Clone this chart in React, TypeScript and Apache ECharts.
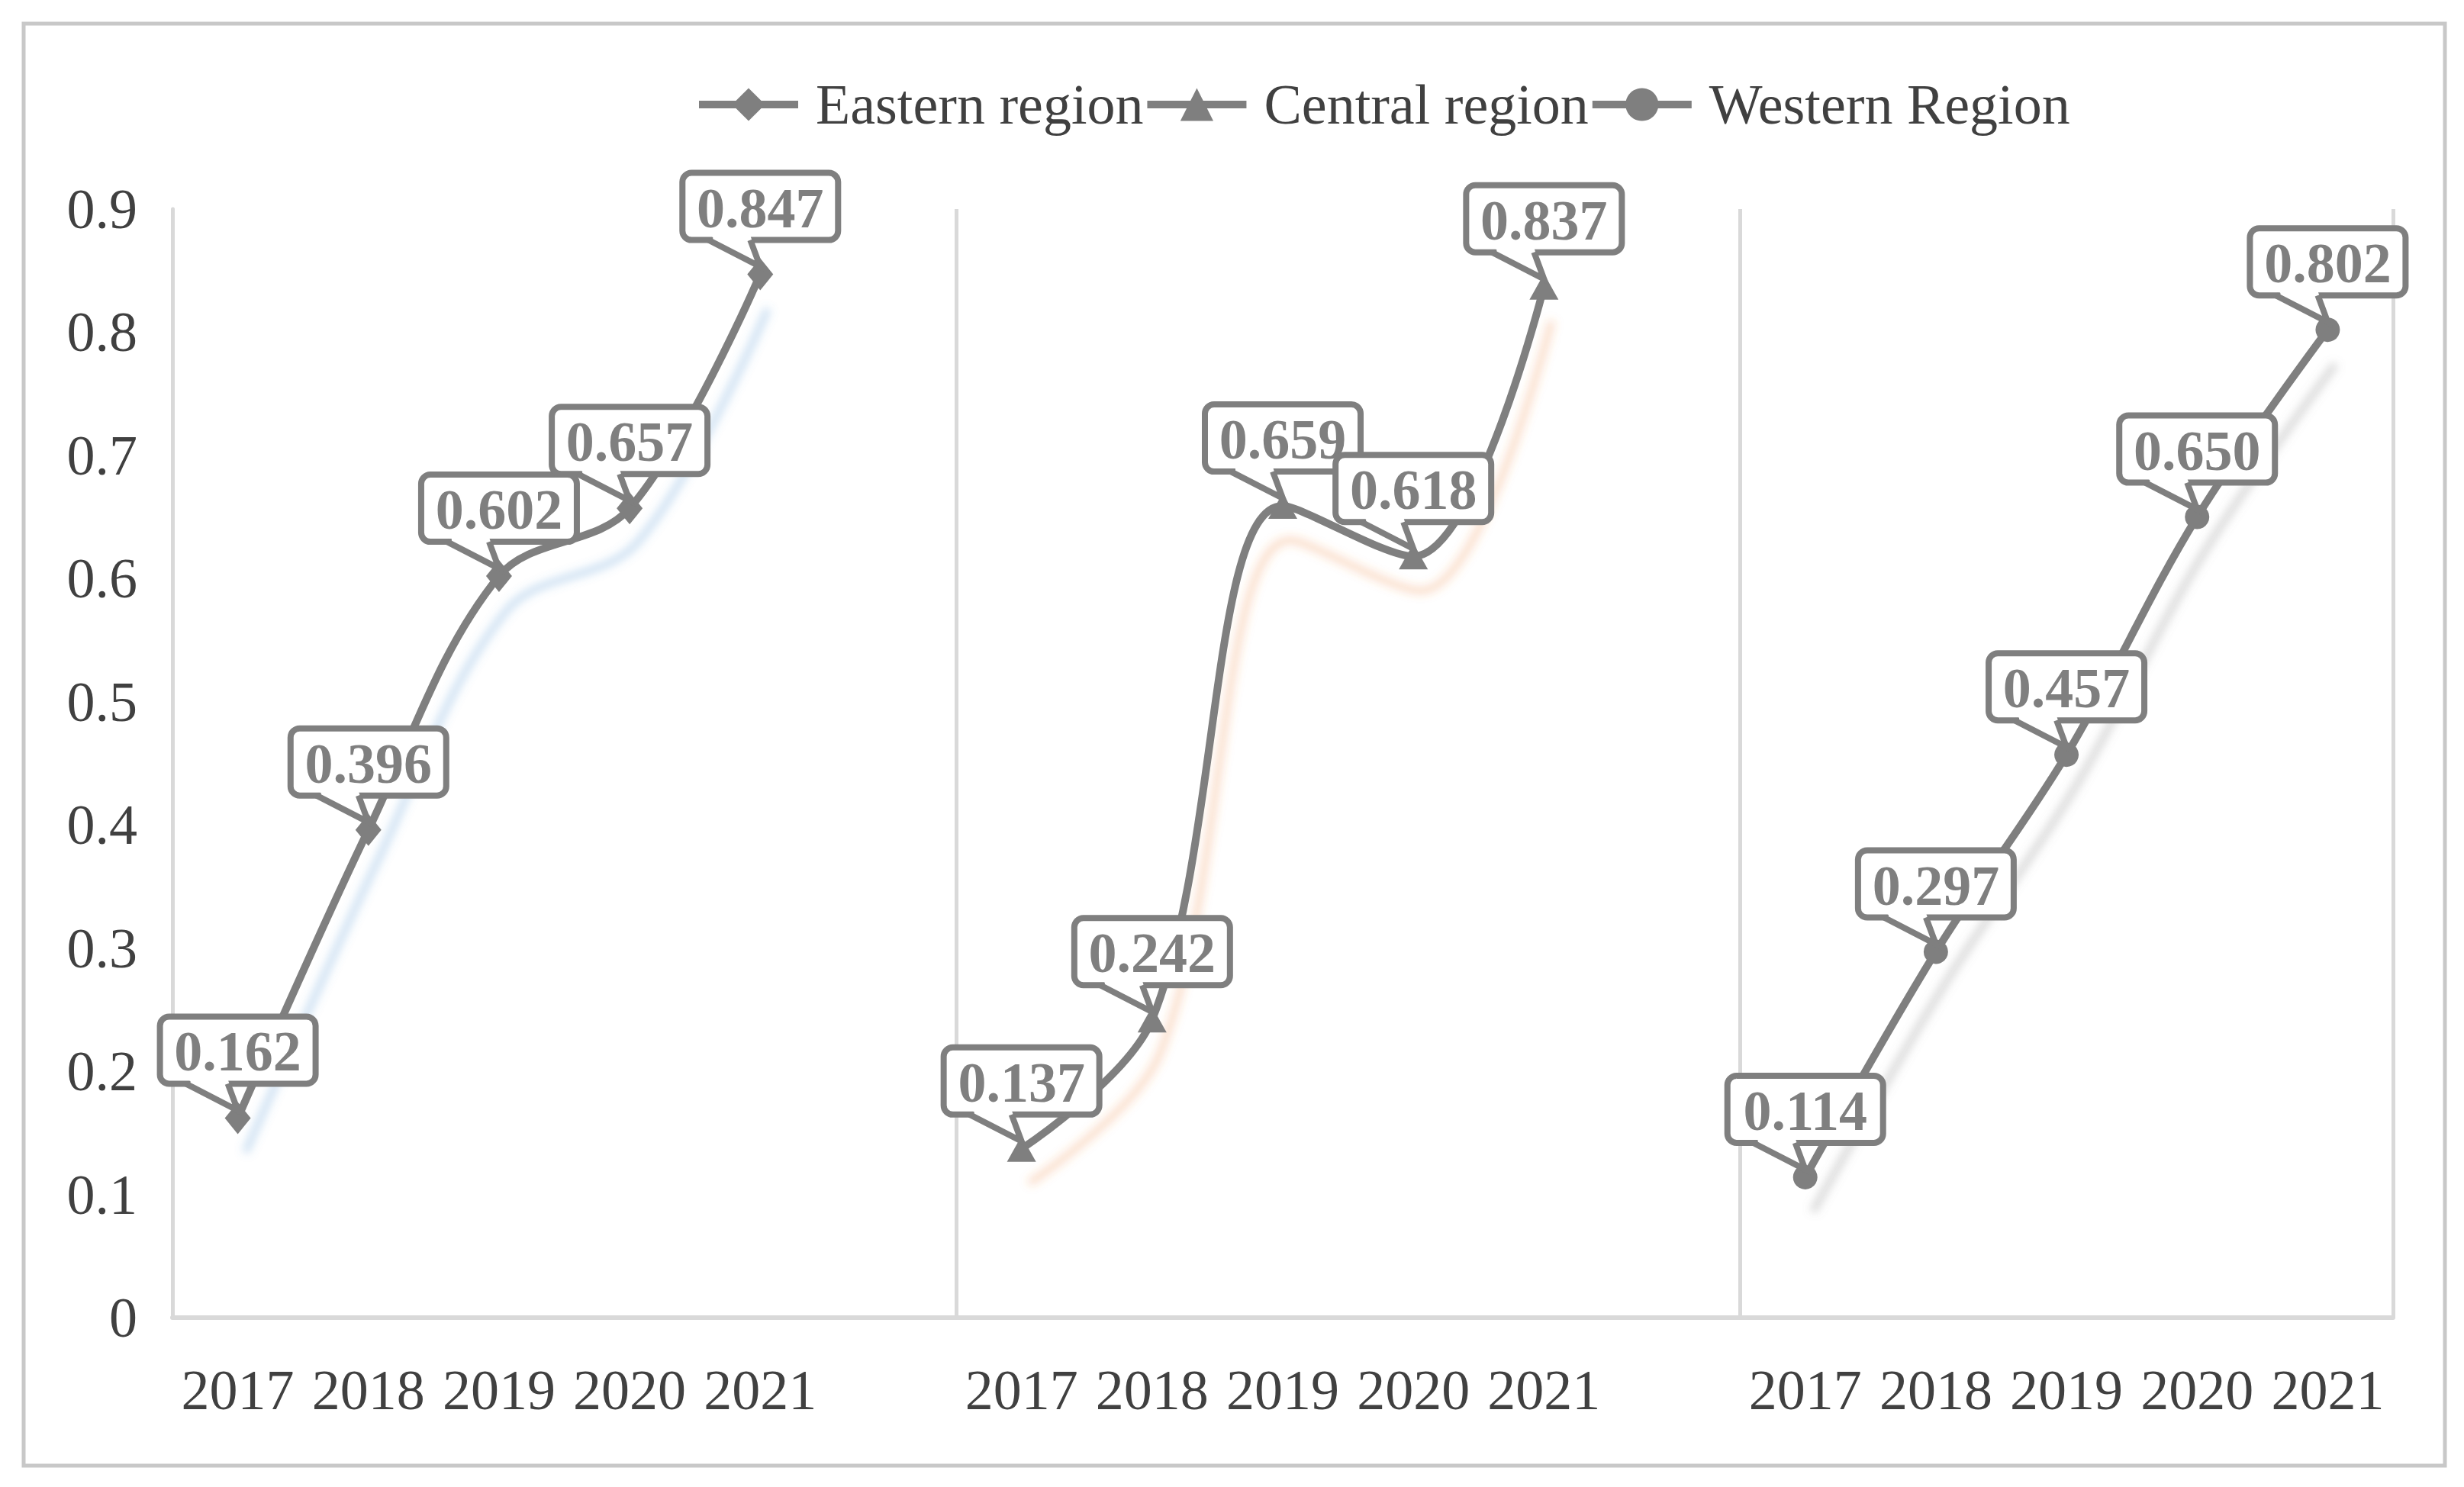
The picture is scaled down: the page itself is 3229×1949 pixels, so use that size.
import React, { useEffect, useRef } from "react";
import * as echarts from "echarts";

const years = ["2017", "2018", "2019", "2020", "2021"];
const eastern = [0.162, 0.396, 0.602, 0.657, 0.847];
const central = [0.137, 0.242, 0.659, 0.618, 0.837];
const western = [0.114, 0.297, 0.457, 0.65, 0.802];
const seriesNames = ["Eastern region", "Central region", "Western Region"];
const yMin = 0;
const yMax = 0.9;
const yStep = 0.1;

const FONT = "Liberation Serif";
const GRAY = "#7f7f7f";
const AXIS = "#d9d9d9";

const categories = [
  ...years.map((y) => `E|${y}`),
  "gap1",
  ...years.map((y) => `C|${y}`),
  "gap2",
  ...years.map((y) => `W|${y}`),
];

function pairs(prefix: string, vals: number[]) {
  return vals.map((v, i) => [`${prefix}|${years[i]}`, v]);
}

function calloutRender(params: any, api: any) {
  const idx = api.value(0);
  const val = api.value(1);
  const [px, py] = api.coord([idx, val]);
  const w = 204;
  const h = 88;
  const top = py - 133;
  const bottom = top + h;
  const lw = 8;
  return {
    type: "group",
    children: [
      {
        type: "rect",
        shape: { x: px - w / 2, y: top, width: w, height: h, r: 12 },
        style: { fill: "#ffffff", stroke: GRAY, lineWidth: lw },
      },
      {
        type: "polygon",
        shape: {
          points: [
            [px - 66, bottom - 6],
            [px, py - 10],
            [px - 13, bottom - 6],
          ],
        },
        style: { fill: "#ffffff" },
      },
      {
        type: "rect",
        shape: { x: px - 62, y: bottom - 6, width: 46, height: 12 },
        style: { fill: "#ffffff" },
      },
      {
        type: "polyline",
        shape: {
          points: [
            [px - 68, bottom],
            [px, py - 10],
            [px - 13, bottom],
          ],
        },
        style: { stroke: GRAY, lineWidth: lw, fill: null, lineJoin: "miter" },
      },
      {
        type: "text",
        style: {
          text: Number(val).toFixed(3),
          x: px,
          y: top + h / 2 + 2,
          align: "center",
          verticalAlign: "middle",
          fontSize: 74,
          fontFamily: FONT,
          fontWeight: "bold",
          fill: GRAY,
        },
      },
    ],
  };
}

export default function App() {
  const ref = useRef<HTMLDivElement>(null);
  useEffect(() => {
    if (!ref.current) return;
    const chart = echarts.init(ref.current, null, { renderer: "svg" });
    const shadows = [
      "rgba(91,155,213,0.30)",
      "rgba(237,125,49,0.25)",
      "rgba(128,128,128,0.30)",
    ];
    const symbols = ["diamond", "triangle", "circle"];
    const symbolSizes: any[] = [[34, 42], [38, 34], 32];
    const datas = [
      pairs("E", eastern),
      pairs("C", central),
      pairs("W", western),
    ];
    const lineSeries = datas.map((d, i) => ({
      name: seriesNames[i],
      type: "line",
      data: d,
      smooth: 0.35,
      symbol: symbols[i],
      symbolSize: symbolSizes[i],
      showAllSymbol: true,
      lineStyle: {
        color: GRAY,
        width: 10,
        shadowColor: shadows[i],
        shadowBlur: 12,
        shadowOffsetX: 10,
        shadowOffsetY: 45,
      },
      itemStyle: { color: GRAY },
      z: 2,
    }));
    const calloutSeries = datas.map((d, i) => ({
      name: `${seriesNames[i]} labels`,
      type: "custom",
      renderItem: calloutRender,
      data: d,
      z: 4,
      silent: true,
    }));
    chart.setOption({
      animation: false,
      backgroundColor: "#ffffff",
      graphic: [
        {
          type: "rect",
          shape: { x: 31, y: 31, width: 3173, height: 1890 },
          style: { fill: null, stroke: "#c8c8c8", lineWidth: 5 },
          z: 0,
        },
      ],
      legend: {
        data: seriesNames,
        left: 906,
        top: 95,
        itemWidth: 130,
        itemHeight: 54,
        itemGap: 0,
        lineStyle: { width: 10, shadowBlur: 0, shadowOffsetX: 0, shadowOffsetY: 0, shadowColor: "transparent" },
        textStyle: {
          fontSize: 74,
          fontFamily: FONT,
          color: "#404040",
          padding: [0, 0, 0, 18],
        },
      },
      grid: { left: 226, right: 93, top: 274, bottom: 222 },
      xAxis: {
        type: "category",
        data: categories,
        boundaryGap: true,
        axisLine: { show: true, lineStyle: { color: AXIS, width: 6 } },
        axisTick: { show: false },
        axisLabel: {
          interval: 0,
          margin: 58,
          fontSize: 74,
          fontFamily: FONT,
          color: "#404040",
          formatter: (v: string) => v.split("|")[1] || "",
        },
        splitLine: {
          show: true,
          interval: (index: number, value: string) =>
            value === "C|2017" || value === "W|2017",
          lineStyle: { color: AXIS, width: 5 },
        },
      },
      yAxis: {
        type: "value",
        min: yMin,
        max: yMax,
        interval: yStep,
        axisLine: { show: true, lineStyle: { color: AXIS, width: 5 } },
        axisTick: { show: false },
        splitLine: { show: false },
        axisLabel: {
          margin: 46,
          fontSize: 74,
          fontFamily: FONT,
          color: "#404040",
          formatter: (v: number) => (v === 0 ? "0" : v.toFixed(1)),
        },
      },
      series: [...lineSeries, ...calloutSeries],
    });
    return () => chart.dispose();
  }, []);
  return (
    <div
      ref={ref}
      style={{ position: "fixed", left: 0, top: 0, width: 3229, height: 1949 }}
    />
  );
}
